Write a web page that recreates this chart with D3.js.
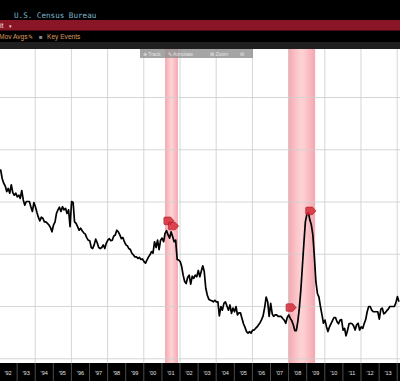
<!DOCTYPE html>
<html lang="en">
<head>
<meta charset="UTF-8">
<title>Inventories to Sales</title>
<script src="https://cdn.jsdelivr.net/npm/d3@7"></script>
<style>
body{margin:0;background:#000;}
svg{display:block;}
</style>
</head>
<body>
<svg id="chart"></svg>
<script>
// monthly values, first one is Jan 1992
var startMonth = "1992-01";
var ratio = [
  1.560,1.560,1.544,1.535,1.530,1.519,1.525,1.516,1.532,1.517,1.512,1.516, // 92
  1.509,1.512,1.506,1.521,1.503,1.493,1.500,1.500,1.500,1.490,1.481,1.498, // 93
  1.490,1.479,1.470,1.463,1.470,1.468,1.461,1.461,1.458,1.455,1.450,1.442, // 94
  1.455,1.461,1.477,1.484,1.489,1.481,1.490,1.484,1.487,1.477,1.484,1.452, // 95
  1.500,1.498,1.461,1.458,1.452,1.445,1.449,1.444,1.440,1.438,1.431,1.426, // 96
  1.425,1.412,1.410,1.417,1.428,1.421,1.412,1.410,1.412,1.417,1.410,1.420, // 97
  1.426,1.429,1.425,1.426,1.434,1.436,1.445,1.442,1.436,1.429,1.431,1.423, // 98
  1.417,1.415,1.410,1.408,1.401,1.398,1.394,1.394,1.391,1.393,1.389,1.390, // 99
  1.385,1.382,1.388,1.394,1.398,1.404,1.401,1.423,1.412,1.426,1.408,1.426, // 00
  1.430,1.423,1.439,1.444,1.436,1.430,1.442,1.433,1.423,1.426,1.389,1.388, // 01
  1.385,1.375,1.359,1.347,1.343,1.355,1.359,1.342,1.357,1.353,1.359,1.356, // 02
  1.368,1.356,1.366,1.377,1.366,1.334,1.321,1.313,1.311,1.310,1.308,1.311, // 03
  1.308,1.308,1.281,1.299,1.292,1.305,1.308,1.300,1.292,1.302,1.286,1.296, // 04
  1.289,1.299,1.283,1.287,1.287,1.276,1.266,1.259,1.251,1.248,1.251,1.248, // 05
  1.254,1.254,1.257,1.260,1.264,1.268,1.274,1.281,1.297,1.317,1.308,1.280, // 06
  1.305,1.285,1.280,1.283,1.283,1.280,1.280,1.280,1.276,1.273,1.267,1.278, // 07
  1.283,1.276,1.272,1.264,1.253,1.253,1.270,1.296,1.331,1.375,1.420,1.461, // 08
  1.476,1.479,1.465,1.455,1.436,1.394,1.347,1.324,1.317,1.299,1.283,1.267, // 09
  1.273,1.260,1.251,1.260,1.266,1.272,1.278,1.278,1.270,1.266,1.273,1.274, // 10
  1.254,1.257,1.243,1.253,1.266,1.267,1.266,1.262,1.254,1.264,1.267,1.254, // 11
  1.260,1.257,1.266,1.274,1.289,1.299,1.299,1.292,1.289,1.289,1.289,1.289, // 12
  1.275,1.294,1.296,1.285,1.287,1.291,1.294,1.299,1.299,1.299,1.299,1.306, // 13
  1.318,1.308                                                              // 14
];
var gridLevels = [1.20, 1.30, 1.40, 1.50, 1.60, 1.70];
var recessions = [["2001-03-15", "2001-11-30"], ["2007-12-31", "2009-06-30"]];
var eventDates = ["2001-03-15", "2001-06-15", "2007-12-15", "2009-01-15"];
var eventLevels = [1.463, 1.453, 1.297, 1.482];
var yearLabels = ["'92","'93","'94","'95","'96","'97","'98","'99","'00","'01","'02",
                  "'03","'04","'05","'06","'07","'08","'09","'10","'11","'12","'13"];

var width = 400;
var height = 381;
var plotTop = 49;
var plotBottom = 363;

var parseDay = d3.timeParse("%Y-%m-%d");
var start = d3.timeParse("%Y-%m")(startMonth);
var data = ratio.map(function(v, i) {
  return {date: d3.timeDay.offset(d3.timeMonth.offset(start, i), 14), value: v};
});

var svg = d3.select("#chart")
  .attr("width", width)
  .attr("height", height)
  .style("font-family", "'Liberation Sans', Arial, sans-serif");

var x = d3.scaleTime()
  .domain([new Date(1992, 0, 1), new Date(2014, 0, 1)])
  .range([-1.5, 396.7]);
var y = d3.scaleLinear()
  .domain([1.20, 1.80])
  .range([358.25, 44.75]);

/* header bands */
svg.append("rect").attr("width", width).attr("height", height).attr("fill", "#000");
svg.append("text")
  .attr("x", 14).attr("y", 18)
  .style("font-family", "'DejaVu Sans Mono', monospace")
  .style("font-size", "7.6px")
  .attr("fill", "#7db6cf")
  .text("U.S. Census Bureau");
svg.append("rect").attr("y", 20).attr("width", width).attr("height", 10.5).attr("fill", "#8a1526");
svg.append("text").attr("x", 0).attr("y", 28).attr("fill", "#f2dede")
  .style("font-size", "7px").text("it");
svg.append("text").attr("x", 8.5).attr("y", 28).attr("fill", "#f2dede")
  .style("font-size", "5px").text("▾");
var menu = svg.append("text").attr("y", 39).style("font-size", "6.6px").attr("fill", "#d99b5e");
menu.append("tspan").attr("x", -1).text("Mov Avgs");
menu.append("tspan").attr("x", 28).style("font-size", "6px").text("✎");
menu.append("tspan").attr("x", 39).attr("fill", "#8a8a8a").style("font-size", "6px").text("■");
menu.append("tspan").attr("x", 47).text("Key Events");
svg.append("rect").attr("y", 42).attr("width", width).attr("height", 7).attr("fill", "#1f1f1f");

/* plot area */
svg.append("rect").attr("y", plotTop).attr("width", width)
  .attr("height", plotBottom - plotTop).attr("fill", "#fff");

var defs = svg.append("defs");
defs.append("clipPath").attr("id", "clip")
  .append("rect").attr("y", plotTop).attr("width", width).attr("height", plotBottom - plotTop);
var grad = defs.append("linearGradient").attr("id", "shade");
grad.append("stop").attr("offset", "0%").attr("stop-color", "#f5a6ae");
grad.append("stop").attr("offset", "35%").attr("stop-color", "#fbc8cc");
grad.append("stop").attr("offset", "50%").attr("stop-color", "#fdd3d6");
grad.append("stop").attr("offset", "65%").attr("stop-color", "#fbc8cc");
grad.append("stop").attr("offset", "100%").attr("stop-color", "#f5a6ae");

var plot = svg.append("g").attr("clip-path", "url(#clip)");

plot.selectAll(".rec")
  .data(recessions)
  .enter()
  .append("rect")
  .attr("class", "rec")
  .attr("x", function(d) { return x(parseDay(d[0])); })
  .attr("width", function(d) { return x(parseDay(d[1])) - x(parseDay(d[0])); })
  .attr("y", plotTop)
  .attr("height", plotBottom - plotTop)
  .attr("fill", "url(#shade)");

// grid
var evenYears = d3.range(1994, 2015, 2).map(function(yr) { return new Date(yr, 0, 1); });
var xGrid = plot.append("g")
  .attr("transform", "translate(0," + plotBottom + ")")
  .call(d3.axisBottom(x).tickValues(evenYears).tickSize(-(plotBottom - plotTop)).tickFormat(""));
var yGrid = plot.append("g")
  .call(d3.axisRight(y).tickValues(gridLevels).tickSize(width).tickFormat(""));
[xGrid, yGrid].forEach(function(g) {
  g.select(".domain").remove();
  g.selectAll("line").attr("stroke", "#cfcfcf").attr("stroke-opacity", 0.85).attr("stroke-width", 1);
});

// series line
var line = d3.line()
  .x(function(d) { return x(d.date); })
  .y(function(d) { return y(d.value); });
plot.append("path")
  .datum(data)
  .attr("d", line)
  .attr("fill", "none")
  .attr("stroke", "#000")
  .attr("stroke-width", 1.7)
  .attr("stroke-linejoin", "round");

// key event flags
plot.selectAll(".evt")
  .data(eventDates)
  .enter()
  .append("path")
  .attr("class", "evt")
  .attr("transform", function(d, i) {
    return "translate(" + x(parseDay(d)) + "," + y(eventLevels[i]) + ")";
  })
  .attr("d", "M0,-3.8L5.5,-3.8L9,0L5.5,3.8L0,3.8Q-1.2,3.8 -1.2,2.6L-1.2,-2.6Q-1.2,-3.8 0,-3.8Z")
  .attr("fill", "#d62c38")
  .attr("fill-opacity", 0.85)
  .attr("stroke", "#a3161f")
  .attr("stroke-width", 0.6);

// chart toolbar
var bar = svg.append("g");
bar.append("rect").attr("x", 140).attr("y", plotTop).attr("width", 113).attr("height", 9)
  .attr("fill", "#8f8f8f").attr("fill-opacity", 0.8);
var tools = [["⊕ Track", 143], ["✎ Annotate", 168], ["⊞ Zoom", 210], ["⊟", 240]];
bar.selectAll("text")
  .data(tools)
  .enter()
  .append("text")
  .attr("x", function(d) { return d[1]; })
  .attr("y", plotTop + 6.5)
  .attr("fill", "#e6e6e6")
  .style("font-size", "5px")
  .text(function(d) { return d[0]; });

/* bottom axis band */
svg.append("rect").attr("y", plotBottom).attr("width", width)
  .attr("height", height - plotBottom).attr("fill", "#000");
var janTicks = d3.range(1993, 2015).map(function(yr) { return new Date(yr, 0, 1); });
var sep = svg.append("g")
  .attr("transform", "translate(0," + plotBottom + ")")
  .call(d3.axisBottom(x).tickValues(janTicks).tickSize(height - plotBottom).tickFormat(""));
sep.select(".domain").remove();
sep.selectAll("line").attr("stroke", "#4a4a4a");

var midYears = d3.range(1992, 2014).map(function(yr) { return new Date(yr, 6, 1); });
var xAxis = svg.append("g")
  .attr("transform", "translate(0," + (plotBottom + 5) + ")")
  .call(d3.axisBottom(x).tickValues(midYears).tickSize(0)
    .tickFormat(function(d, i) { return yearLabels[i]; }));
xAxis.select(".domain").remove();
xAxis.selectAll("text")
  .attr("fill", "#e0e0e0")
  .style("font-size", "5.5px")
  .style("font-family", "'Liberation Sans', Arial, sans-serif");
</script>
</body>
</html>
